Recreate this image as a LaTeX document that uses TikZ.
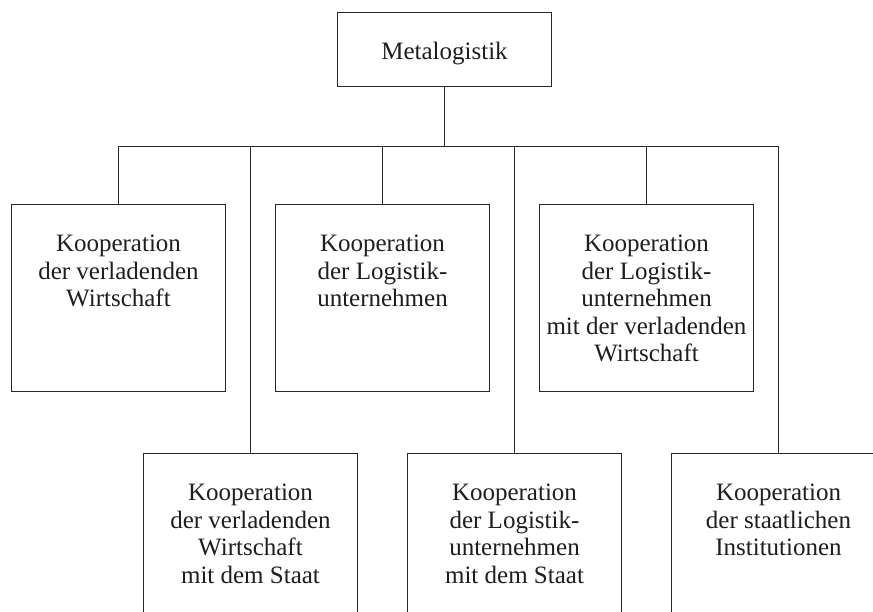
\documentclass[tikz,border=0pt]{standalone}
\usepackage{fontspec}
\setmainfont{Liberation Serif}
\definecolor{linec}{RGB}{40,40,40}
\definecolor{textc}{RGB}{30,30,30}
\begin{document}
\begin{tikzpicture}[x=1pt,y=-1pt,
  linestyle/.style={draw=linec, line width=1pt},
  boxstyle/.style={rectangle, draw=linec, line width=1pt, inner sep=0pt, outer sep=0pt, anchor=north west, minimum width=214pt},
  toprow/.style={boxstyle, minimum height=187pt},
  botrow/.style={boxstyle, minimum height=200pt},
  txt/.style={anchor=north, align=center, inner sep=0pt, text=textc, font=\fontsize{25}{27.5}\selectfont}]
\useasboundingbox (0,0) rectangle (873,612);
\clip (0,0) rectangle (873,612);
% top box
\node[boxstyle, minimum height=74pt] (meta) at (337.5,12.5) {};
\node[anchor=base, inner sep=0pt, text=textc, font=\fontsize{25}{27.5}\selectfont] (metat) at (meta.center |- 0,60) {Metalogistik};
% top row
\node[toprow] (b1) at (11.5,204.5) {};
\node[toprow] (b2) at (275.5,204.5) {};
\node[toprow] (b3) at (539.5,204.5) {};
% bottom row
\node[botrow] (b4) at (143.5,453.5) {};
\node[botrow] (b5) at (407.5,453.5) {};
\node[botrow] (b6) at (671.5,453.5) {};
% texts
\node[txt] (t1) at ([yshift=-30.5pt]b1.north) {Kooperation\\der verladenden\\Wirtschaft};
\node[txt] (t2) at ([yshift=-30.5pt]b2.north) {Kooperation\\der Logistik-\\unternehmen};
\node[txt] (t3) at ([yshift=-30.5pt]b3.north) {Kooperation\\der Logistik-\\unternehmen\\mit der verladenden\\Wirtschaft};
\node[txt] (t4) at ([yshift=-30.5pt]b4.north) {Kooperation\\der verladenden\\Wirtschaft\\mit dem Staat};
\node[txt] (t5) at ([yshift=-30.5pt]b5.north) {Kooperation\\der Logistik-\\unternehmen\\mit dem Staat};
\node[txt] (t6) at ([yshift=-30.5pt]b6.north) {Kooperation\\der staatlichen\\Institutionen};
% connectors
\coordinate (bus) at (0,146.5);
\draw[linestyle] (meta.south) -- (meta.south |- bus);
\draw[linestyle] (b1.north |- bus) -- (b6.north |- bus);
\foreach \b in {b1,b2,b3,b4,b5,b6}{
  \draw[linestyle] (\b.north |- bus) -- (\b.north);
}
\end{tikzpicture}
\end{document}
